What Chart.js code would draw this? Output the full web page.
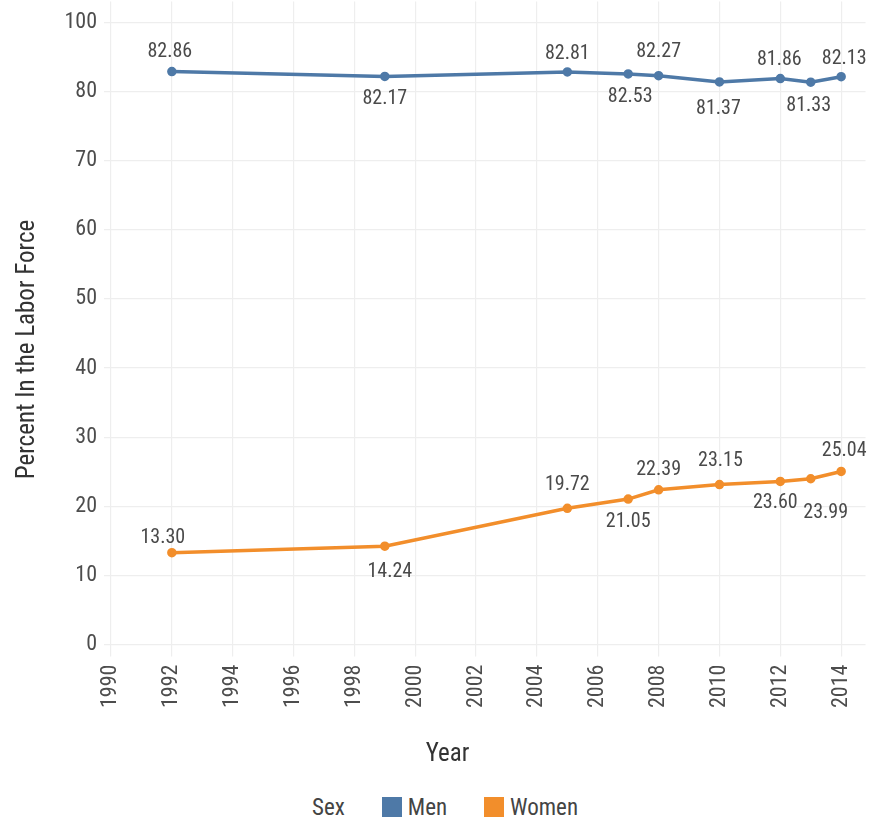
<!DOCTYPE html>
<html>
<head>
<meta charset="utf-8">
<script src="https://cdn.jsdelivr.net/npm/chart.js@4"></script>
<style>
  html, body { margin: 0; padding: 0; background: #fff; overflow: hidden; }
  #wrap { width: 873px; height: 796px; margin-top: -6px; position: relative; }
  #legend { width: 873px; height: 34px; box-sizing: border-box; padding-left: 17px; display: flex; justify-content: center; align-items: center;
    font-family: 'Roboto Condensed', 'Liberation Sans Narrow', Roboto, sans-serif; font-size: 23px; color: #444; }
  #legend .sw { display: inline-block; width: 20px; height: 20px; margin: 0 6px 0 0; }
  #legend .item { display: flex; align-items: center; margin-left: 37px; }
</style>
</head>
<body>
<div id="wrap"><canvas id="laborChart"></canvas></div>
<div id="legend">
  <span>Sex</span>
  <span class="item"><span class="sw" style="background:#4e79a7"></span>Men</span>
  <span class="item"><span class="sw" style="background:#f28e2b"></span>Women</span>
</div>
<script>
const years = [1992, 1999, 2005, 2007, 2008, 2010, 2012, 2013, 2014];
const menValues = [82.86, 82.17, 82.81, 82.53, 82.27, 81.37, 81.86, 81.33, 82.13];
const womenValues = [13.30, 14.24, 19.72, 21.05, 22.39, 23.15, 23.60, 23.99, 25.04];
// label nudges in pixels relative to each point (negative dy = above)
const menLabelDx = [-2, 0, 0, 2, 0, -1, -1, -2, 3];
const menLabelDy = [-20, 23, -18, 23, -24, 27, -19, 24, -18];
const womenLabelDx = [-9, 5, 0, 0, 0, 1, -5, 15, 3];
const womenLabelDy = [-15, 26, -23, 23, -20, -24, 22, 34, -20];
const xTickValues = [1990, 1992, 1994, 1996, 1998, 2000, 2002, 2004, 2006, 2008, 2010, 2012, 2014];
const yTickValues = [0, 10, 20, 30, 40, 50, 60, 70, 80, 90];
const yTickLabels = ['0', '10', '20', '30', '40', '50', '60', '70', '80', '100'];

const FONT = "'Roboto Condensed', 'Liberation Sans Narrow', Roboto, sans-serif";
const gridColor = '#eeeeee';

const pointLabels = {
    id: 'pointLabels',
    afterDatasetsDraw(chart) {
        const c = chart.ctx;
        c.save();
        c.font = '20px ' + FONT;
        c.fillStyle = '#4a4a4a';
        c.textAlign = 'center';
        c.textBaseline = 'middle';
        chart.data.datasets.forEach(function (ds, di) {
            const meta = chart.getDatasetMeta(di);
            meta.data.forEach(function (pt, i) {
                c.fillText(ds.data[i].y.toFixed(2), pt.x + ds.labelDx[i], pt.y + ds.labelDy[i]);
            });
        });
        c.restore();
    }
};

const ctx = document.getElementById('laborChart');
new Chart(ctx, {
    type: 'line',
    data: {
        datasets: [{
            label: 'Men',
            data: years.map((y, i) => ({ x: y, y: menValues[i] })),
            labelDx: menLabelDx,
            labelDy: menLabelDy,
            borderColor: '#4e79a7',
            backgroundColor: '#4e79a7',
            borderWidth: 3.5,
            pointRadius: 3,
            tension: 0
        }, {
            label: 'Women',
            data: years.map((y, i) => ({ x: y, y: womenValues[i] })),
            labelDx: womenLabelDx,
            labelDy: womenLabelDy,
            borderColor: '#f28e2b',
            backgroundColor: '#f28e2b',
            borderWidth: 3.5,
            pointRadius: 3,
            tension: 0
        }]
    },
    options: {
        responsive: true,
        maintainAspectRatio: false,
        animation: false,
        layout: { padding: { top: 0, left: 13, right: 5, bottom: 0 } },
        plugins: {
            legend: { display: false },
            tooltip: { enabled: false }
        },
        scales: {
            x: {
                type: 'linear',
                min: 1989.77,
                max: 2014.8,
                border: { display: false },
                grid: { color: gridColor, lineWidth: 1.2, tickLength: 5, tickColor: gridColor },
                afterBuildTicks: function (scale) {
                    scale.ticks = xTickValues.map(v => ({ value: v }));
                },
                afterFit: function (scale) {
                    scale.paddingLeft = 0;
                    scale.paddingRight = 0;
                },
                ticks: {
                    minRotation: 90,
                    maxRotation: 90,
                    padding: 8,
                    color: '#4d4d4d',
                    font: { family: FONT, size: 22 },
                    callback: function (value) { return String(value); }
                },
                title: {
                    display: true,
                    text: 'Year             ',
                    color: '#333',
                    font: { family: FONT, size: 25 },
                    padding: { top: 24, bottom: 20 }
                }
            },
            y: {
                min: -1,
                max: 93,
                border: { display: false },
                grid: { color: gridColor, lineWidth: 1.2, drawTicks: false },
                afterBuildTicks: function (scale) {
                    scale.ticks = yTickValues.map(v => ({ value: v }));
                },
                afterFit: function (scale) {
                    scale.width = 91;
                    scale.paddingTop = 0;
                    scale.paddingBottom = 0;
                },
                ticks: {
                    padding: 7,
                    color: '#4d4d4d',
                    font: { family: FONT, size: 22 },
                    callback: function (value) {
                        const i = yTickValues.indexOf(value);
                        return i >= 0 ? yTickLabels[i] : '';
                    }
                },
                title: {
                    display: true,
                    text: 'Percent In the Labor Force        ',
                    color: '#333',
                    font: { family: FONT, size: 25 },
                    padding: 0
                }
            }
        }
    },
    plugins: [pointLabels]
});
</script>
</body>
</html>
